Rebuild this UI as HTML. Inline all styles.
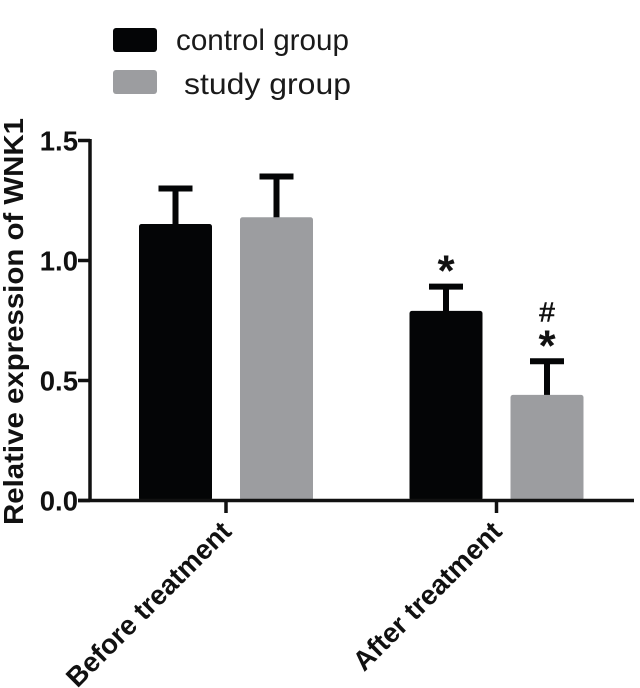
<!DOCTYPE html>
<html>
<head>
<meta charset="utf-8">
<style>
html,body{margin:0;padding:0;background:#fff}
svg{display:block}
text{font-family:"Liberation Sans",sans-serif}
</style>
</head>
<body>
<svg id="chart" width="640" height="688" viewBox="0 0 640 688" xmlns="http://www.w3.org/2000/svg">
<g id="legend">
  <rect x="113" y="28" width="44" height="24" rx="3" fill="#040506"/>
  <text x="176" y="50" font-size="30" textLength="173" lengthAdjust="spacingAndGlyphs" fill="#1a1a1a">control group</text>
  <rect x="113" y="70" width="44" height="24" rx="3" fill="#9c9da0"/>
  <text x="184" y="94" font-size="30" textLength="167" lengthAdjust="spacingAndGlyphs" fill="#1a1a1a">study group</text>
</g>
<g id="bars"></g>
<g id="axes"></g>
<text transform="translate(23,525) rotate(-90)" font-size="27.5" font-weight="bold" textLength="407" lengthAdjust="spacingAndGlyphs" fill="#111">Relative expression of WNK1</text>
</svg>
<script>
const categories = ['Before treatment', 'After treatment'];
const seriesNames = ['control', 'study'];
const controlValues = [1.152, 0.79];
const studyValues = [1.18, 0.44];
const controlErrors = [0.148, 0.101];
const studyErrors = [0.17, 0.14];
const yTicks = ['0.0', '0.5', '1.0', '1.5'];
const controlMarks = ['', '*'];
const studyMarks = ['', '*'];
const studyExtraMarks = ['', '#'];

const NS = 'http://www.w3.org/2000/svg';
const plot = { x0: 90, y0: 500.5, unit: 240, groupStart: 226, groupStep: 270.5, barWidth: 73, offset: 50.5 };
const yScale = v => plot.y0 - v * plot.unit;
const xScale = (c, s) => plot.groupStart + c * plot.groupStep + (s === 0 ? -plot.offset : plot.offset);
const colors = ['#040506', '#9c9da0'];
const values = [controlValues, studyValues];
const errors = [controlErrors, studyErrors];
const marks = [controlMarks, studyMarks];

function make(parent, tag, attrs, text) {
  const el = document.createElementNS(NS, tag);
  for (const k in attrs) el.setAttribute(k, attrs[k]);
  if (text !== undefined) el.textContent = text;
  parent.appendChild(el);
  return el;
}
const bars = document.getElementById('bars');
const axes = document.getElementById('axes');

categories.forEach((cat, c) => {
  seriesNames.forEach((name, s) => {
    const cx = xScale(c, s);
    const top = yScale(values[s][c]);
    const errTop = yScale(values[s][c] + errors[s][c]);
    const stem = make(bars, 'line', { x1: cx, x2: cx, y1: errTop, y2: top + 2, stroke: '#040506', 'stroke-width': 6 });
    
    
    const cap = make(bars, 'line', { x1: cx - 17, x2: cx + 17, y1: errTop, y2: errTop, stroke: '#040506', 'stroke-width': 6 });
    
    
    const bar = make(bars, 'rect', { x: cx - plot.barWidth / 2, y: top, width: plot.barWidth, height: plot.y0 - top, rx: 2.5, fill: colors[s] });
    
    
    if (marks[s][c]) {
      const star = make(bars, 'text', { x: cx, y: errTop + (s === 0 ? -1 : -1), 'font-size': 44, 'font-weight': 'bold', 'text-anchor': 'middle', fill: '#111' }, marks[s][c]);
      
      
    }
    if (s === 1 && studyExtraMarks[c]) {
      const hash = make(bars, 'text', { x: cx, y: errTop - 40, 'font-size': 28, 'text-anchor': 'middle', fill: '#111', stroke: '#111', 'stroke-width': 0.6 }, studyExtraMarks[c]);
      
      
    }
  });
  const tx = plot.groupStart + c * plot.groupStep;
  const tick = make(axes, 'line', { x1: tx, x2: tx, y1: plot.y0, y2: 513, stroke: '#111', 'stroke-width': 3.5 });
  
  
  const label = make(axes, 'text', { transform: 'translate(' + (tx + 7) + ',533) rotate(-45)', 'font-size': 27.5, 'font-weight': 'bold', 'text-anchor': 'end', fill: '#111' }, cat);
  
  
});

const yAxis = make(axes, 'line', { x1: plot.x0, x2: plot.x0, y1: yScale(1.5) - 1.5, y2: plot.y0, stroke: '#111', 'stroke-width': 3.5 });


const xAxis = make(axes, 'line', { x1: 78, x2: 634, y1: plot.y0, y2: plot.y0, stroke: '#111', 'stroke-width': 3.5 });



yTicks.forEach(t => {
  const y = yScale(parseFloat(t));
  const tick = make(axes, 'line', { x1: 78, x2: plot.x0, y1: y, y2: y, stroke: '#111', 'stroke-width': 3.5 });
  
  
  const label = make(axes, 'text', { x: 78, y: y + 10, 'font-size': 27.5, 'font-weight': 'bold', 'text-anchor': 'end', fill: '#111' }, t);
  
  
});
</script>
</body>
</html>
